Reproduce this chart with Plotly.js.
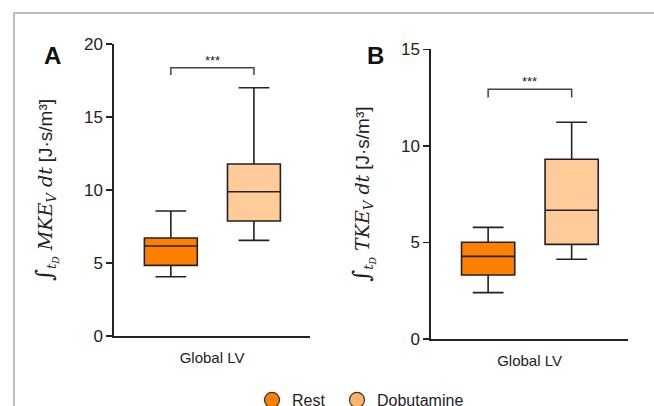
<!DOCTYPE html>
<html><head><meta charset="utf-8">
<script src="https://cdn.plot.ly/plotly-3.0.1.min.js"></script>
<style>html,body{margin:0;padding:0;background:#fff}#c{width:654px;height:406px}</style>
</head><body><div id="c"></div>
<script>
// Box statistics: [Rest, Dobutamine]
const groups = ['Rest', 'Dobutamine'];
const category = 'Global LV';
// Panel A: MKE
const mkeLower = [4.06, 6.55];
const mkeQ1 = [4.84, 7.88];
const mkeMedian = [6.16, 9.88];
const mkeQ3 = [6.71, 11.78];
const mkeUpper = [8.56, 17.0];
// Panel B: TKE
const tkeLower = [2.40, 4.13];
const tkeQ1 = [3.31, 4.90];
const tkeMedian = [4.28, 6.67];
const tkeQ3 = [5.01, 9.31];
const tkeUpper = [5.78, 11.22];
// significance bracket heights and label
const bracketLevel = [18.38, 12.93];
const sigLabel = '***';
const yTicksA = [0, 5, 10, 15, 20];
const yTicksB = [0, 5, 10, 15];

const fills = ['#FF8000', '#FFCC99'];
const legendFills = ['#FF8000', '#FFB366'];
const lineCol = '#222222';
const pos = [0.29, 0.714];
const bw = 0.27;

const traces = [];
function addBoxes(xa, ya, lo, q1, med, q3, up) {
  for (let i = 0; i < 2; i++) {
    traces.push({
      type: 'box', xaxis: xa, yaxis: ya, name: groups[i], showlegend: false,
      x: [pos[i]], q1: [q1[i]], median: [med[i]], q3: [q3[i]],
      lowerfence: [lo[i]], upperfence: [up[i]],
      width: bw, whiskerwidth: 0.58, fillcolor: fills[i],
      line: {color: lineCol, width: 1.6}, hoverinfo: 'skip'
    });
  }
}
addBoxes('x', 'y', mkeLower, mkeQ1, mkeMedian, mkeQ3, mkeUpper);
addBoxes('x2', 'y2', tkeLower, tkeQ1, tkeMedian, tkeQ3, tkeUpper);
const legendIds = ['legend', 'legend2'];
for (let i = 0; i < 2; i++) {
  traces.push({type: 'scatter', mode: 'markers', x: [null], y: [null], name: groups[i], legend: legendIds[i],
    marker: {symbol: 'circle', size: 15, color: legendFills[i], line: {color: '#333', width: 1.2}},
    showlegend: true});
}

const tickFont = {family: 'Liberation Sans, Arial, sans-serif', size: 17, color: '#222'};
function yTitle(name) {
  return '<span style="font-family:DejaVu Serif;font-style:italic"><span style="font-size:23px">∫</span><sub>t<sub>D</sub></sub> ' + name +
    '<sub>V</sub> dt</span> <span style="font-family:Liberation Sans">[J·s/m³]</span>';
}
const xBase = {range: [0, 1], tickvals: [0.5], ticktext: [category], ticks: '', showgrid: false,
  zeroline: false, showline: true, linecolor: lineCol, linewidth: 1.6, ticklabelstandoff: 7,
  tickfont: {family: 'Liberation Sans, Arial, sans-serif', size: 15, color: '#222'}, fixedrange: true};
const yBase = {ticks: 'outside', ticklen: 6, tickwidth: 1.6, tickcolor: lineCol, showgrid: false,
  zeroline: false, showline: true, linecolor: lineCol, linewidth: 1.6, tickfont: tickFont};

function bracket(xa, ya, lvl, drop) {
  return {type: 'path', xref: xa, yref: ya,
    path: `M ${pos[0]},${lvl - drop} V ${lvl} H ${pos[1]} V ${lvl - drop}`,
    line: {color: '#444', width: 1.5}};
}
const legendBase = {orientation: 'h', xanchor: 'left', y: 1 - 400/406, yanchor: 'middle',
  font: {family: 'Liberation Sans, Arial, sans-serif', size: 16, color: '#222'},
  itemsizing: 'trace', bgcolor: 'rgba(0,0,0,0)'};

const layout = {
  width: 654, height: 406, margin: {l: 0, r: 0, t: 0, b: 0, autoexpand: false},
  paper_bgcolor: '#fff', plot_bgcolor: 'rgba(0,0,0,0)',
  xaxis: Object.assign({}, xBase, {domain: [114/654, 310/654], anchor: 'y'}),
  yaxis: Object.assign({}, yBase, {domain: [1 - 336/406, 1 - 44/406], range: [0, 20], tickvals: yTicksA, anchor: 'x',
    title: {text: yTitle('MKE'), font: {size: 19, color: '#222'}, standoff: 26}}),
  xaxis2: Object.assign({}, xBase, {domain: [431/654, 628/654], anchor: 'y2'}),
  yaxis2: Object.assign({}, yBase, {domain: [1 - 339/406, 1 - 49.3/406], range: [0, 15], tickvals: yTicksB, anchor: 'x2',
    title: {text: yTitle('TKE'), font: {size: 19, color: '#222'}, standoff: 26}}),
  showlegend: true,
  legend: Object.assign({}, legendBase, {x: 252/654}),
  legend2: Object.assign({}, legendBase, {x: 337/654}),
  shapes: [
    {type: 'rect', xref: 'paper', yref: 'paper', x0: 14/654, x1: 1.05, y0: -0.05, y1: 1 - 13/406,
      line: {color: '#aaaaaa', width: 1.5}},
    bracket('x', 'y', bracketLevel[0], 0.5),
    bracket('x2', 'y2', bracketLevel[1], 0.43)
  ],
  annotations: [
    {text: '<b>A</b>', xref: 'paper', yref: 'paper', x: 52/654, y: 1 - 55/406, xanchor: 'center', yanchor: 'middle', showarrow: false,
      font: {family: 'Liberation Sans, Arial', size: 24, color: '#111'}},
    {text: '<b>B</b>', xref: 'paper', yref: 'paper', x: 375/654, y: 1 - 55/406, xanchor: 'center', yanchor: 'middle', showarrow: false,
      font: {family: 'Liberation Sans, Arial', size: 24, color: '#111'}},
    {text: sigLabel, xref: 'x', yref: 'y', x: 0.5, y: bracketLevel[0], yanchor: 'bottom', yshift: -2, showarrow: false,
      font: {family: 'Liberation Sans, Arial', size: 13, color: '#222'}},
    {text: sigLabel, xref: 'x2', yref: 'y2', x: 0.5, y: bracketLevel[1], yanchor: 'bottom', yshift: -2, showarrow: false,
      font: {family: 'Liberation Sans, Arial', size: 13, color: '#222'}}
  ]
};
Plotly.newPlot('c', traces, layout, {displayModeBar: false, staticPlot: true});
</script></body></html>
